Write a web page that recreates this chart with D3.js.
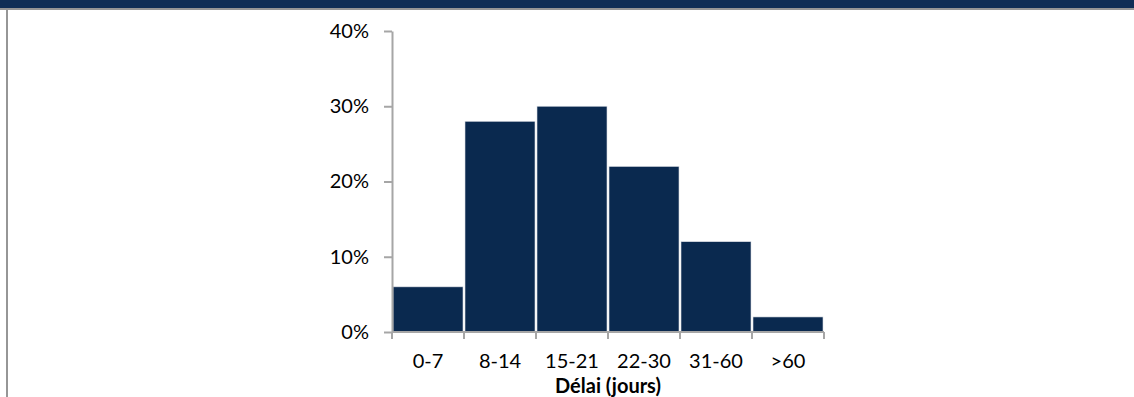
<!DOCTYPE html>
<html>
<head>
<meta charset="utf-8">
<script src="https://cdn.jsdelivr.net/npm/d3@7"></script>
<style>
  html, body { margin: 0; padding: 0; background: #fff; }
  svg { display: block; }
</style>
</head>
<body>
<svg id="chart" width="1134" height="397"></svg>
<script>
// Délai de traitement : distribution par tranche de jours
const categories = ["0-7", "8-14", "15-21", "22-30", "31-60", ">60"];
const shares = [0.06, 0.28, 0.30, 0.22, 0.12, 0.02];
const yTicks = [0, 0.1, 0.2, 0.3, 0.4];
const xTitle = "Délai (jours)";

const W = 1134, H = 397;
const svg = d3.select("#chart");
const font = "Lato, 'Open Sans', sans-serif";

// Frame: dark band on top, grey rule, grey left border
svg.append("rect").attr("x", 0).attr("y", 0).attr("width", W).attr("height", 8).attr("fill", "#102e56");
svg.append("rect").attr("x", 0).attr("y", 8).attr("width", W).attr("height", 2).attr("fill", "#969696");
svg.append("rect").attr("x", 6).attr("y", 8).attr("width", 2).attr("height", H - 8).attr("fill", "#969696");

const plotLeft = 392, plotRight = 824, plotTop = 31, plotBottom = 332;

const x = d3.scaleBand().domain(categories).range([plotLeft, plotRight]).padding(0);
const y = d3.scaleLinear().domain([0, 0.4]).range([plotBottom, plotTop]);

// Bars
svg.append("g").selectAll("rect")
  .data(categories)
  .join("rect")
  .attr("x", (d) => x(d) + 1)
  .attr("width", x.bandwidth() - 2)
  .attr("y", (d, i) => y(shares[i]))
  .attr("height", (d, i) => y(0) - y(shares[i]))
  .attr("fill", "#0a294f")
  .attr("stroke", "#d9dde3")
  .attr("stroke-width", 0.6);

// Y axis
const yAxis = svg.append("g")
  .attr("transform", `translate(${plotLeft},0)`)
  .call(d3.axisLeft(y).tickValues(yTicks).tickFormat(d3.format(".0%")).tickSizeInner(8).tickSizeOuter(0).tickPadding(15));
yAxis.select(".domain").attr("stroke", "#a6a6a6").attr("stroke-width", 2);
yAxis.selectAll(".tick line").attr("stroke", "#a6a6a6").attr("stroke-width", 2);
yAxis.selectAll(".tick text").attr("font-family", font).attr("font-size", 20).attr("fill", "#000");

// X axis with ticks at the band edges
const xAxis = svg.append("g").attr("transform", `translate(0,${plotBottom})`);
xAxis.append("line").attr("x1", plotLeft).attr("x2", plotRight).attr("y1", 0).attr("y2", 0)
  .attr("stroke", "#a6a6a6").attr("stroke-width", 2);
const edges = categories.map((d) => x(d)).concat([x(categories[categories.length - 1]) + x.bandwidth()]);
xAxis.selectAll("line.edge").data(edges).join("line").attr("class", "edge")
  .attr("x1", (d) => d).attr("x2", (d) => d).attr("y1", 0).attr("y2", 7)
  .attr("stroke", "#a6a6a6").attr("stroke-width", 2);
xAxis.selectAll("text").data(categories).join("text")
  .attr("x", (d) => x(d) + x.bandwidth() / 2)
  .attr("y", 36)
  .attr("text-anchor", "middle")
  .attr("font-family", font).attr("font-size", 20).attr("fill", "#000")
  .text((d) => d);

svg.append("text")
  .attr("x", (plotLeft + plotRight) / 2)
  .attr("y", plotBottom + 61)
  .attr("text-anchor", "middle")
  .attr("font-family", font).attr("font-size", 20).attr("font-weight", "bold").attr("fill", "#000")
  .text(xTitle);
</script>
</body>
</html>
